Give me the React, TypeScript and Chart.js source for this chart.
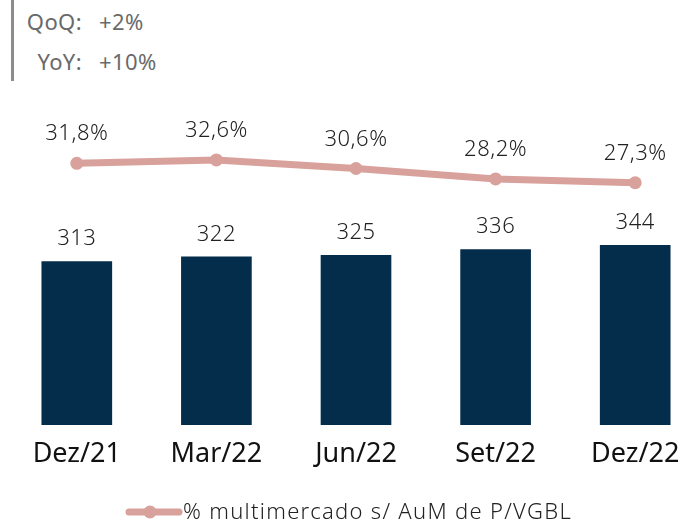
import React, { useEffect, useRef } from "react";
import { Chart, registerables } from "chart.js";

Chart.register(...registerables);

const categories = ["Dez/21", "Mar/22", "Jun/22", "Set/22", "Dez/22"];
const aumValues = [313, 322, 325, 336, 344];
const shareValues = [31.8, 32.6, 30.6, 28.2, 27.3];
const shareLabels = ["31,8%", "32,6%", "30,6%", "28,2%", "27,3%"];
const legendLabel = "% multimercado s/ AuM de P/VGBL";
const headerRows = [
  { k: "QoQ:", v: "+2%" },
  { k: "YoY:", v: "+10%" },
];

const FONT = "'Noto Sans', sans-serif";
const BAR_COLOR = "#032D4A";
const LINE_COLOR = "#D9A19B";

const labelPlugin = {
  id: "valueLabels",
  afterDatasetsDraw(chart: any) {
    const ctx = chart.ctx;
    ctx.save();
    ctx.fillStyle = "#222222";
    ctx.font = `300 22px ${FONT}`;
    try { (ctx as any).letterSpacing = "0.5px"; } catch (e) {}
    ctx.textAlign = "center";
    ctx.textBaseline = "alphabetic";
    const barMeta = chart.getDatasetMeta(0);
    barMeta.data.forEach((el: any, i: number) => {
      ctx.fillText(String(aumValues[i]), el.x, el.y - 16);
    });
    const lineMeta = chart.getDatasetMeta(1);
    lineMeta.data.forEach((el: any, i: number) => {
      ctx.fillText(shareLabels[i], el.x, el.y - 23);
    });
    ctx.restore();
  },
};

const legendPlugin = {
  id: "customLegend",
  afterDraw(chart: any) {
    const ctx = chart.ctx;
    ctx.save();
    const y = 512;
    ctx.strokeStyle = LINE_COLOR;
    ctx.lineWidth = 7;
    ctx.lineCap = "round";
    ctx.beginPath();
    ctx.moveTo(122, y);
    ctx.lineTo(172, y);
    ctx.stroke();
    ctx.fillStyle = LINE_COLOR;
    ctx.beginPath();
    ctx.arc(143, y, 6.5, 0, Math.PI * 2);
    ctx.fill();
    ctx.fillStyle = "#222222";
    ctx.font = `300 22px ${FONT}`;
    try { (ctx as any).letterSpacing = "1.3px"; } catch (e) {}
    ctx.textAlign = "left";
    ctx.textBaseline = "alphabetic";
    ctx.fillText(legendLabel, 176, 519);
    ctx.restore();
  },
};

export default function App() {
  const ref = useRef<HTMLCanvasElement | null>(null);

  useEffect(() => {
    if (!ref.current) return;
    const chart = new Chart(ref.current, {
      type: "bar",
      data: {
        labels: categories,
        datasets: [
          {
            type: "bar",
            label: "AuM",
            data: aumValues,
            backgroundColor: BAR_COLOR,
            barThickness: 70,
            yAxisID: "y",
            order: 1,
          },
          {
            type: "line",
            label: legendLabel,
            data: shareValues,
            borderColor: LINE_COLOR,
            backgroundColor: LINE_COLOR,
            borderWidth: 7,
            pointRadius: 6.5,
            pointHoverRadius: 6.5,
            pointBackgroundColor: LINE_COLOR,
            pointBorderWidth: 0,
            tension: 0,
            clip: false,
            yAxisID: "y2",
            order: 0,
          },
        ] as any,
      },
      options: {
        animation: false,
        responsive: false,
        maintainAspectRatio: false,
        devicePixelRatio: 1,
        layout: { autoPadding: false, padding: { top: 99, left: 0, right: 0, bottom: 0 } },
        plugins: {
          legend: { display: false },
          tooltip: { enabled: false },
        },
        scales: {
          x: {
            type: "category",
            offset: true,
            grid: { display: false, drawTicks: false },
            border: { display: false },
            ticks: {
              color: "#111111",
              font: { family: FONT, size: 27, weight: "normal" as any },
              padding: 13,
              maxRotation: 0,
              autoSkip: false,
            },
            afterFit: (scale: any) => {
              scale.height = 105;
            },
          },
          y: {
            display: false,
            min: 0,
            max: 624,
          },
          y2: {
            display: false,
            min: -28.8,
            max: 46.7,
          },
        },
      },
      plugins: [labelPlugin, legendPlugin],
    });
    return () => chart.destroy();
  }, []);

  const headStyle: React.CSSProperties = {
    position: "absolute",
    fontSize: 22,
    lineHeight: "22px",
    color: "#6a6a6a",
    whiteSpace: "nowrap",
    letterSpacing: "0.4px",
  };

  return (
    <div
      style={{
        position: "fixed",
        left: 0,
        top: 0,
        width: 692,
        height: 530,
        overflow: "hidden",
        background: "#ffffff",
        fontFamily: FONT,
      }}
    >
      <div
        style={{
          position: "absolute",
          left: 11,
          top: 0,
          width: 2.5,
          height: 81,
          background: "#8c8c8c",
        }}
      />
      {headerRows.map((r, i) => (
        <div key={r.k}>
          <div
            style={{
              ...headStyle,
              left: 0,
              width: 82,
              top: 10 + i * 39.5,
              textAlign: "right",
            }}
          >
            {r.k}
          </div>
          <div
            style={{
              ...headStyle,
              left: 99,
              top: 10 + i * 39.5,
            }}
          >
            {r.v}
          </div>
        </div>
      ))}
      <canvas
        ref={ref}
        width={698}
        height={530}
        style={{ position: "absolute", left: 7, top: 0, width: 698, height: 530 }}
      />
    </div>
  );
}
